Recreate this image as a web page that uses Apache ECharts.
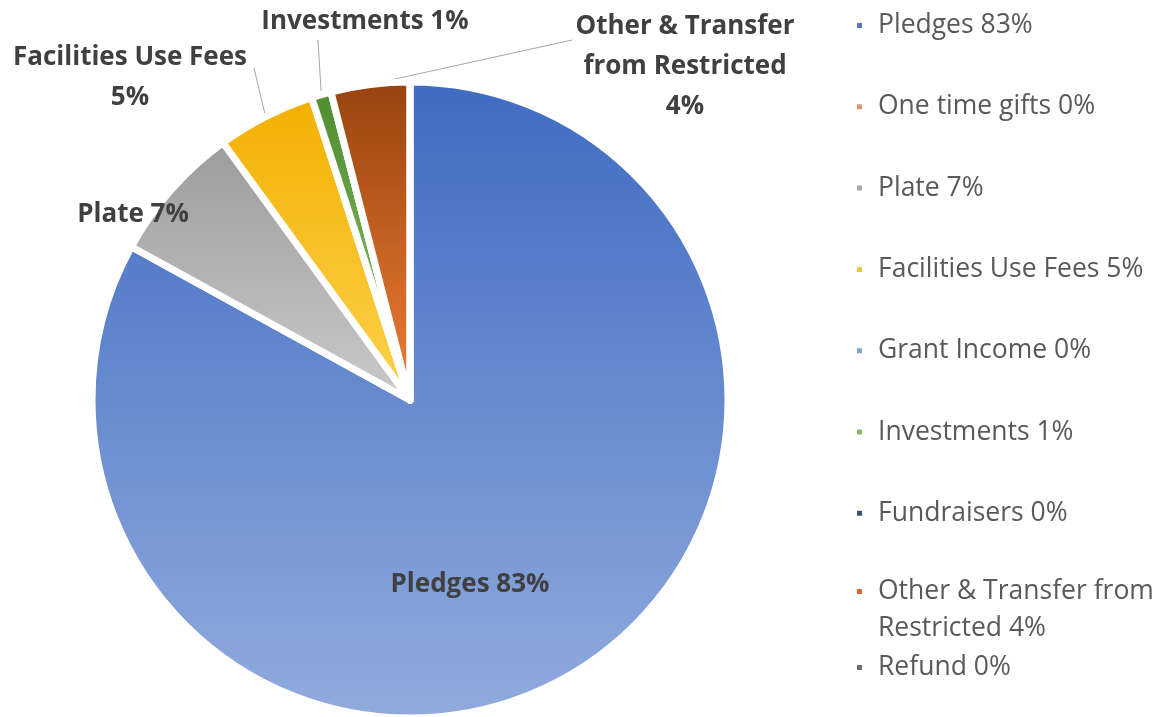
<!DOCTYPE html>
<html>
<head>
<meta charset="utf-8">
<script src="https://cdn.jsdelivr.net/npm/echarts@6/dist/echarts.min.js"></script>
<style>
  html, body { margin: 0; padding: 0; background: #ffffff; }
  #chart { width: 1161px; height: 717px; }
</style>
</head>
<body>
<div id="chart"></div>
<script>
// Income sources and their share of total income (%)
const categories = [
  'Pledges',
  'One time gifts',
  'Plate',
  'Facilities Use Fees',
  'Grant Income',
  'Investments',
  'Fundraisers',
  'Other & Transfer from Restricted',
  'Refund'
];
const shares = [83, 0, 7, 5, 0, 1, 0, 4, 0];

// Slice colours: darker tone at the top of each slice, lighter tone at the bottom
const topColors    = ['#3f6bc1', '#c55a11', '#9c9c9c', '#f2b000', '#4a88c6', '#4f8c2f', '#1f3a68', '#984310', '#555555'];
const bottomColors = ['#91abdd', '#f4b183', '#cacaca', '#fdd24e', '#9dc3e6', '#8cc86a', '#4a6aa5', '#f07e34', '#8a8a8a'];
const legendColors = ['#5676c0', '#e8956f', '#a8a8a8', '#f5c542', '#7fa3d1', '#86b865', '#3d4f7c', '#e0692c', '#6f6f6f'];

const total = shares.reduce((a, b) => a + b, 0);
const pct = v => Math.round(v / total * 100) + '%';

// Greedy word wrap to a maximum number of characters per line
function wrap(text, max) {
  const words = text.split(' ');
  const lines = [];
  let cur = '';
  for (const w of words) {
    const t = cur ? cur + ' ' + w : w;
    if (t.length > max && cur) { lines.push(cur); cur = w; } else { cur = t; }
  }
  if (cur) lines.push(cur);
  return lines.join('\n');
}

// Pie geometry
const CX = 410, CY = 400, R = 318;

// Data label placement: label centre, and where its leader line meets the text
const labelSpots = {
  0: { at: [470, 585] },
  2: { at: [133, 215] },
  3: { at: [130, 78], lineEnd: [254, 68] },
  5: { at: [365, 22], lineEnd: [318, 40] },
  7: { at: [685, 67], lineEnd: [572, 40] }
};

// Point on the rim at the middle of slice i (clockwise from 12 o'clock)
function rimPoint(i) {
  let before = 0;
  for (let k = 0; k < i; k++) before += shares[k];
  const mid = (before + shares[i] / 2) / total * 2 * Math.PI;
  return [CX + R * Math.sin(mid), CY - R * Math.cos(mid)];
}

const pieData = categories.map((name, i) => ({
  name: name,
  value: shares[i],
  itemStyle: {
    color: new echarts.graphic.LinearGradient(0, 0, 0, 1, [
      { offset: 0, color: topColors[i] },
      { offset: 1, color: bottomColors[i] }
    ])
  },
  label: { show: shares[i] > 0, position: i === 0 ? 'inside' : 'outside' },
  labelLine: { show: shares[i] > 0 && !!(labelSpots[i] && labelSpots[i].lineEnd) }
}));

const legendFont = {
  fontFamily: 'Open Sans',
  fontSize: 26.5,
  color: '#595959',
  lineHeight: 37,
  padding: [0, 0, 0, 10]
};
const legendFormatter = name => {
  const i = categories.indexOf(name);
  return wrap(name + ' ' + pct(shares[i]), 22);
};
const legendItems = categories.map((name, i) => ({ name: name, itemStyle: { color: legendColors[i] } }));
const legendBase = {
  orient: 'vertical',
  left: 850,
  itemGap: 44.3,
  icon: 'rect',
  itemWidth: 7,
  itemHeight: 7,
  selectedMode: false,
  textStyle: legendFont,
  formatter: legendFormatter
};

const chart = echarts.init(document.getElementById('chart'), null, { renderer: 'canvas' });
chart.setOption({
  backgroundColor: '#ffffff',
  animation: false,
  legend: [
    Object.assign({}, legendBase, { top: 2, data: legendItems.slice(0, 7) }),
    // two-line entry: a tall marker box with the square at its top keeps the
    // square level with the first text line
    Object.assign({}, legendBase, {
      top: 568,
      itemHeight: 44,
      icon: 'path://M0,0H7V7H0Z M3,44L3.01,44',
      data: legendItems.slice(7, 8)
    }),
    Object.assign({}, legendBase, { top: 644, data: legendItems.slice(8) })
  ],
  series: [{
    type: 'pie',
    center: [CX, CY],
    radius: R,
    startAngle: 90,
    clockwise: true,
    avoidLabelOverlap: false,
    itemStyle: { borderColor: '#ffffff', borderWidth: 7 },
    label: {
      fontFamily: 'Open Sans',
      fontWeight: 'bold',
      fontSize: 26,
      color: '#404040',
      lineHeight: 40,
      align: 'center',
      formatter: p => p.name.length > 15
        ? wrap(p.name, 19) + '\n' + pct(p.value)
        : p.name + ' ' + pct(p.value)
    },
    labelLine: { length: 10, length2: 0, lineStyle: { color: '#a6a6a6', width: 1 } },
    labelLayout: p => {
      const s = labelSpots[p.dataIndex];
      if (!s) return {};
      const out = { x: s.at[0], y: s.at[1], align: 'center', verticalAlign: 'middle' };
      if (s.lineEnd) {
        out.labelLinePoints = [rimPoint(p.dataIndex), s.lineEnd, s.lineEnd];
      }
      return out;
    },
    data: pieData
  }]
});
</script>
</body>
</html>
